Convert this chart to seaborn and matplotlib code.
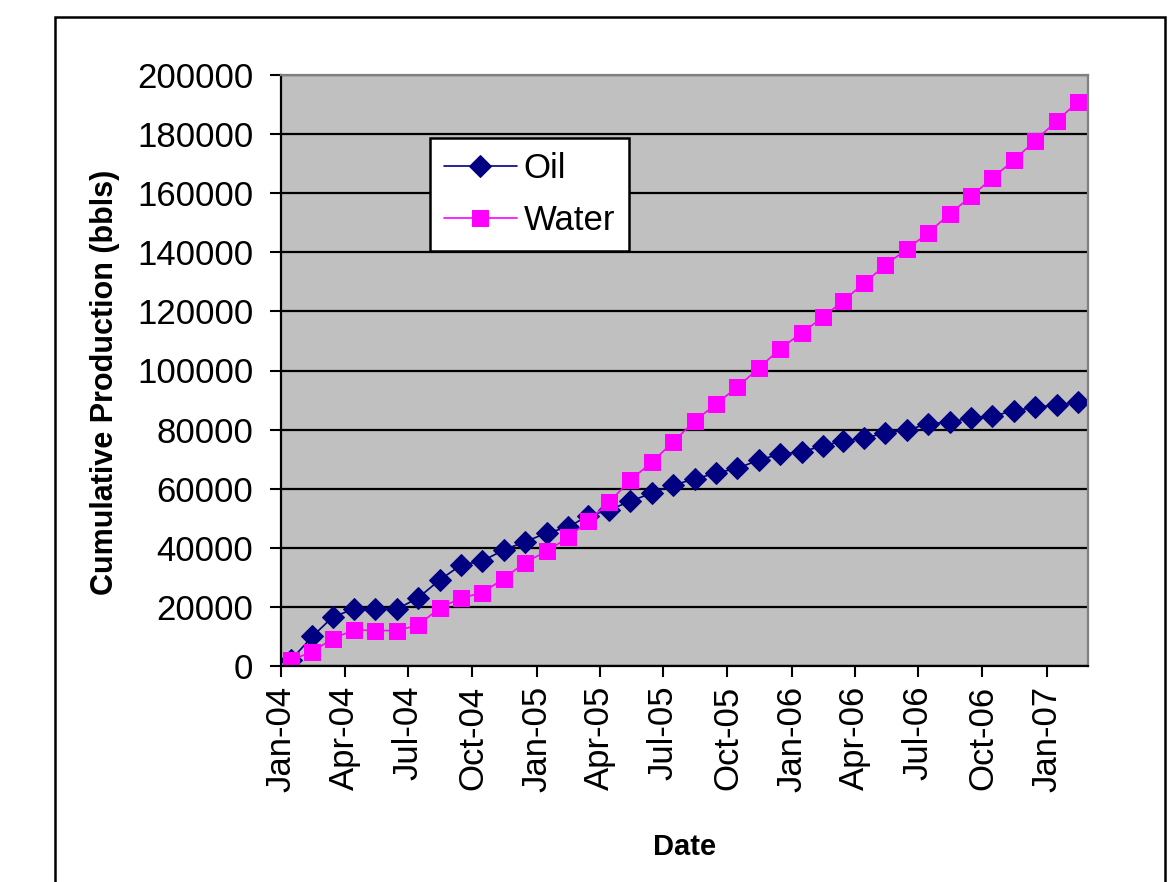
import numpy as np
import pandas as pd
import matplotlib
matplotlib.use("Agg")
import matplotlib.pyplot as plt
import matplotlib.dates as mdates
from matplotlib.patches import Rectangle
import seaborn as sns

sns.set_style("white", {"text.color": "black", "axes.labelcolor": "black",
                        "xtick.color": "black", "ytick.color": "black"})
plt.rcParams['font.family'] = ['Liberation Sans', 'DejaVu Sans']

# Monthly cumulative production, mid-month readings Jan-04 .. Feb-07
dates = pd.date_range("2004-01-01", periods=38, freq="MS") + pd.Timedelta(days=14)
oil = [2000, 10000, 16600, 19300, 19200, 19300, 23000, 29100, 34200, 35500,
       39300, 42000, 45000, 47000, 50800, 52800, 55800, 58500, 61200, 63300,
       65300, 66900, 69700, 71700, 72500, 74500, 76100, 77200, 78800, 79900,
       81900, 82600, 83900, 84600, 86300, 87600, 88300, 89200]
water = [2000, 4800, 9300, 12200, 12000, 12000, 13800, 19600, 23000, 24800,
         29600, 35000, 38800, 43500, 49000, 55500, 62900, 69000, 75800, 82900,
         88700, 94400, 100800, 107300, 112700, 118100, 123500, 129600, 135700, 141100,
         146500, 153000, 159000, 165100, 171200, 177700, 184400, 191000]

df = pd.DataFrame({"Date": dates, "Oil": oil, "Water": water})

fig = plt.figure(figsize=(11.74, 8.82), dpi=100)
ax = fig.add_axes([281/1174, 1 - 666/882, 807/1174, 591/882])
ax.set_facecolor("#C0C0C0")

sns.lineplot(data=df, x="Date", y="Oil", ax=ax, color="#000080", marker="D",
             markersize=11, markeredgecolor="#000080", linewidth=1.2, label="Oil")
sns.lineplot(data=df, x="Date", y="Water", ax=ax, color="#FF00FF", marker="s",
             markersize=11, markeredgecolor="#FF00FF", linewidth=1.2, label="Water")

ax.set_xlim(pd.Timestamp("2004-01-01"), pd.Timestamp("2007-03-01"))
ax.set_ylim(0, 200000)
ax.set_yticks(np.arange(0, 200001, 20000))
ax.xaxis.set_major_locator(mdates.MonthLocator(bymonth=[1, 4, 7, 10]))
ax.xaxis.set_major_formatter(mdates.DateFormatter("%b-%y"))
plt.setp(ax.get_xticklabels(), rotation=90)

ax.yaxis.grid(True, color="black", linewidth=1.6)
ax.xaxis.grid(False)
ax.set_axisbelow(True)
ax.tick_params(axis="both", labelsize=25, length=8, width=1.5, color="black",
               labelcolor="black", direction="out", left=True, bottom=True)
ax.tick_params(axis="y", pad=12)
ax.tick_params(axis="x", pad=6)

for s in ["left", "bottom"]:
    ax.spines[s].set_color("black")
    ax.spines[s].set_linewidth(1.6)
for s in ["top", "right"]:
    ax.spines[s].set_color("#808080")
    ax.spines[s].set_linewidth(1.6)

ax.set_xlabel("Date", fontsize=21, fontweight="bold", labelpad=30, color="black")
ax.set_ylabel("Cumulative Production (bbls)", fontsize=22, fontweight="bold",
              color="black")
ax.yaxis.set_label_coords(-0.2, 0.48)

leg = ax.legend(loc="upper left", bbox_to_anchor=(0.1846, 0.893), borderaxespad=0,
                fontsize=25, frameon=True, fancybox=False, edgecolor="black",
                framealpha=1, handlelength=2.1, borderpad=0.4, labelspacing=0.55,
                handletextpad=0.2, labelcolor="black")
leg.get_frame().set_linewidth(1.8)

# outer chart-area border, open at the bottom
fig.add_artist(Rectangle((55/1174, -0.05), (1165 - 55)/1174, 1.05 - 17/882,
                         transform=fig.transFigure, fill=False,
                         edgecolor="black", linewidth=1.8, clip_on=False))

fig.savefig("out.png", dpi=100)
